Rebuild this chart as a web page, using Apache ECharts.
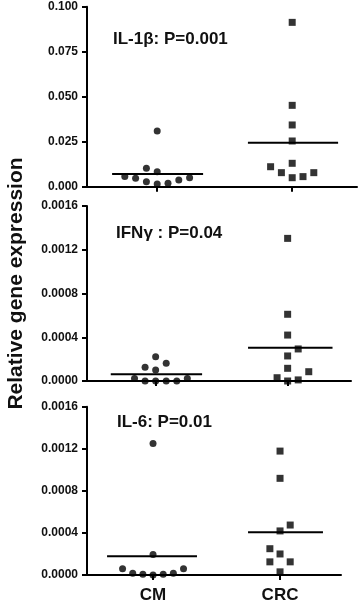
<!DOCTYPE html>
<html><head><meta charset="utf-8">
<script src="https://cdn.jsdelivr.net/npm/echarts@6/dist/echarts.min.js"></script>
<style>html,body{margin:0;padding:0;background:#fff}#c{width:360px;height:604px}</style>
</head><body><div id="c"></div>
<script>
// ---- data ----
const categories = ['CM', 'CRC'];
const categoryX = [0.26, 0.76];          // position of each group on the 0..1 x scale
const jitterStep = 0.04;                  // x distance between neighbouring jitter slots
const panelTitles = ['IL-1β: P=0.001', 'IFNγ : P=0.04', 'IL-6: P=0.01'];
const yMax = [0.1, 0.0016, 0.0016];
const yInterval = [0.025, 0.0004, 0.0004];
const yDecimals = [3, 4, 4];

// [jitter slot, relative expression]
const il1b_CM  = [[0,0.0309],[-1,0.0102],[0,0.0083],[-3,0.0056],[-2,0.0047],[-1,0.0028],[0,0.0015],[1,0.0019],[2,0.0037],[3,0.0050]];
const il1b_CRC = [[0,0.0913],[0,0.0452],[0,0.0343],[0,0.0254],[0,0.0130],[-2,0.0111],[-1,0.0078],[0,0.0050],[1,0.0056],[2,0.0078]];
const ifng_CM  = [[0,0.000222],[1,0.000162],[-1,0.000125],[0,0.000100],[-2,0.000024],[-1,0],[0,0],[1,0],[2,0],[3,0.000024]];
const ifng_CRC = [[0,0.001304],[0,0.000610],[0,0.000420],[1,0.000293],[0,0.000229],[0,0.000116],[2,0.000085],[-1,0.000030],[0,0],[1,0.000010]];
const il6_CM   = [[0,0.00125],[0,0.000194],[-3,0.000059],[3,0.000059],[-2,0.000016],[-1,0.000006],[0,0],[1,0.000006],[2,0.000016]];
const il6_CRC  = [[0,0.001178],[0,0.000919],[1,0.000475],[0,0.000419],[-1,0.000250],[0,0.000200],[-1,0.000125],[1,0.000125],[0,0.000030]];

// group means (horizontal bars) as drawn
const meanCM  = [0.0071, 0.000061, 0.000178];
const meanCRC = [0.0244, 0.000305, 0.000406];
// x extent of each mean bar on the 0..1 scale
const meanSpanCM  = [[0.093,0.43],[0.09,0.436],[0.079,0.433]];
const meanSpanCRC = [[0.596,0.93],[0.61,0.93],[0.634,0.929]];

const pointsCM  = [il1b_CM, ifng_CM, il6_CM];
const pointsCRC = [il1b_CRC, ifng_CRC, il6_CRC];

// ---- layout ----
const FONT = 'Liberation Sans, Arial, sans-serif';
const grids = [
  {left: 87, top: 6.7, width: 270, height: 180},
  {left: 87, top: 206, width: 264, height: 175},
  {left: 87, top: 406.7, width: 254, height: 170.7}
];
const titlePos = [[113, 31], [116, 225], [117, 414]];

const option = {
  animation: false,
  backgroundColor: '#fff',
  grid: grids,
  title: panelTitles.map((t, i) => ({
    text: t, left: titlePos[i][0], top: titlePos[i][1], padding: 0,
    textStyle: {fontFamily: FONT, fontSize: 17, fontWeight: 'bold', color: '#111'}
  })),
  graphic: [{
    type: 'text', x: 16, y: 283.5, rotation: Math.PI / 2,
    style: {text: 'Relative gene expression', font: 'bold 21px ' + FONT, fill: '#111',
            textAlign: 'center', textVerticalAlign: 'middle'},
    originX: 0, originY: 0
  }],
  xAxis: grids.map((g, i) => ({
    type: 'value', gridIndex: i, min: 0, max: 1,
    axisLine: {show: true, onZero: false, lineStyle: {color: '#000', width: 2}},
    axisTick: {show: true, customValues: categoryX, length: 5, inside: false, lineStyle: {color: '#000', width: 2}},
    axisLabel: {show: i === 2, customValues: categoryX, margin: 12,
      formatter: v => categories[categoryX.findIndex(c => Math.abs(c - v) < 1e-6)] || '',
      fontFamily: FONT, fontSize: 17, fontWeight: 'bold', color: '#111'},
    splitLine: {show: false}
  })),
  yAxis: grids.map((g, i) => ({
    type: 'value', gridIndex: i, min: 0, max: yMax[i], interval: yInterval[i],
    axisLine: {show: true, lineStyle: {color: '#000', width: 2}},
    axisTick: {show: true, length: 5, lineStyle: {color: '#000', width: 2}},
    axisLabel: {margin: 9, formatter: v => v.toFixed(yDecimals[i]),
      fontFamily: FONT, fontSize: 12, fontWeight: 'bold', color: '#111'},
    splitLine: {show: false}
  })),
  series: []
};

for (let i = 0; i < 3; i++) {
  option.series.push({
    type: 'scatter', xAxisIndex: i, yAxisIndex: i, symbol: 'circle', symbolSize: 7,
    itemStyle: {color: '#000'},
    data: pointsCM[i].map(p => [categoryX[0] + p[0] * jitterStep, p[1]])
  });
  option.series.push({
    type: 'scatter', xAxisIndex: i, yAxisIndex: i, symbol: 'rect', symbolSize: 7,
    itemStyle: {color: '#000'},
    data: pointsCRC[i].map(p => [categoryX[1] + p[0] * jitterStep, p[1]])
  });
  option.series.push({
    type: 'line', xAxisIndex: i, yAxisIndex: i, symbol: 'none',
    lineStyle: {color: '#000', width: 2},
    data: [[meanSpanCM[i][0], meanCM[i]], [meanSpanCM[i][1], meanCM[i]]]
  });
  option.series.push({
    type: 'line', xAxisIndex: i, yAxisIndex: i, symbol: 'none',
    lineStyle: {color: '#000', width: 2},
    data: [[meanSpanCRC[i][0], meanCRC[i]], [meanSpanCRC[i][1], meanCRC[i]]]
  });
}

const chart = echarts.init(document.getElementById('c'), null, {renderer: 'canvas'});
chart.setOption(option);
</script>
</body></html>
